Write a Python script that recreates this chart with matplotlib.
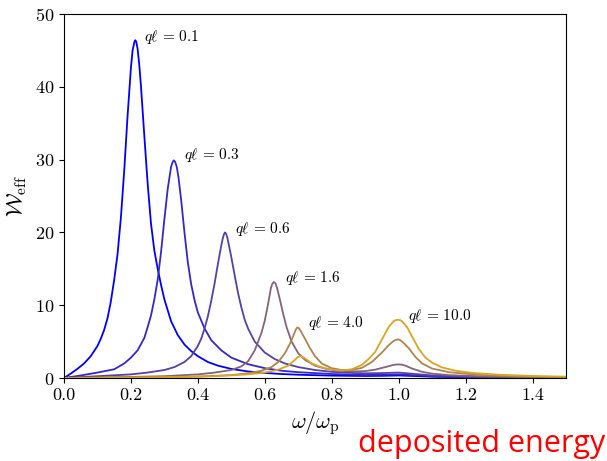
import matplotlib
matplotlib.use("Agg")
import matplotlib.pyplot as plt
from matplotlib.colors import to_rgb
import numpy as np

plt.rcParams.update({
    "font.family": "serif",
    "font.serif": ["cmr10"],
    "mathtext.fontset": "cm",
    "axes.formatter.use_mathtext": True,
    "axes.unicode_minus": False,
})

# Effective energy-loss spectra for several values of q*l
ql_values = [0.1, 0.3, 0.6, 1.6, 4.0, 10.0]

omega_01 = [0, 0.02, 0.04, 0.06, 0.08, 0.10, 0.11, 0.12, 0.13, 0.14, 0.15, 0.16, 0.17,
            0.18, 0.19, 0.20, 0.205, 0.21, 0.213, 0.216, 0.22, 0.225, 0.23, 0.24, 0.25,
            0.26, 0.27, 0.28, 0.29, 0.30, 0.32, 0.34, 0.36, 0.38, 0.40, 0.43, 0.46, 0.50,
            0.55, 0.60, 0.65, 0.70, 0.80, 0.90, 0.95, 1.00, 1.05, 1.10, 1.20, 1.35, 1.50]
w_01 = [0, 0.6, 1.25, 2.0, 3.0, 4.4, 5.4, 6.6, 8.2, 10.5, 13.5, 17.0, 22.0,
        28.5, 36.0, 42.6, 45.0, 46.1, 46.4, 46.2, 45.2, 43.0, 40.1, 33.3, 26.7,
        21.2, 17.5, 15.0, 12.8, 10.8, 7.8, 5.9, 4.6, 3.7, 3.0, 2.2, 1.7, 1.25,
        0.9, 0.7, 0.55, 0.45, 0.33, 0.28, 0.3, 0.35, 0.27, 0.18, 0.11, 0.07, 0.05]

omega_03 = [0, 0.05, 0.10, 0.15, 0.18, 0.20, 0.22, 0.24, 0.25, 0.26, 0.27, 0.28, 0.29,
            0.30, 0.31, 0.32, 0.324, 0.328, 0.332, 0.337, 0.342, 0.35, 0.36, 0.37, 0.38,
            0.39, 0.40, 0.42, 0.44, 0.47, 0.50, 0.55, 0.60, 0.65, 0.70, 0.80, 0.90, 0.95,
            1.00, 1.05, 1.10, 1.20, 1.35, 1.50]
w_03 = [0, 0.35, 0.75, 1.2, 2.0, 2.8, 3.8, 5.5, 7.0, 8.6, 10.8, 13.5, 17.3,
        21.8, 26.0, 29.0, 29.6, 29.9, 29.7, 29.0, 27.6, 24.5, 20.0, 15.9, 12.9,
        10.7, 9.0, 6.8, 5.2, 3.8, 2.8, 1.9, 1.35, 1.0, 0.8, 0.55, 0.42, 0.45,
        0.5, 0.38, 0.25, 0.14, 0.09, 0.06]

omega_06 = [0, 0.10, 0.20, 0.25, 0.30, 0.33, 0.36, 0.38, 0.40, 0.41, 0.42, 0.43, 0.44,
            0.45, 0.46, 0.47, 0.474, 0.478, 0.481, 0.484, 0.488, 0.492, 0.50, 0.51, 0.52,
            0.53, 0.54, 0.55, 0.57, 0.60, 0.63, 0.66, 0.70, 0.75, 0.80, 0.85, 0.90, 0.95,
            1.00, 1.05, 1.10, 1.20, 1.35, 1.50]
w_06 = [0, 0.25, 0.5, 0.75, 1.1, 1.5, 2.2, 3.0, 4.4, 5.4, 6.8, 8.5, 10.6,
        13.0, 15.7, 18.2, 19.1, 19.75, 20.0, 19.85, 19.3, 18.4, 16.6, 14.1, 11.7,
        9.7, 8.0, 6.8, 5.0, 3.5, 2.6, 2.0, 1.5, 1.1, 0.85, 0.72, 0.65, 0.68,
        0.75, 0.55, 0.36, 0.18, 0.1, 0.07]

omega_16 = [0, 0.20, 0.30, 0.40, 0.45, 0.50, 0.53, 0.55, 0.57, 0.59, 0.60, 0.61, 0.618,
            0.622, 0.627, 0.632, 0.637, 0.645, 0.655, 0.665, 0.68, 0.70, 0.72, 0.75, 0.78,
            0.82, 0.86, 0.90, 0.93, 0.96, 0.98, 0.99, 1.00, 1.01, 1.02, 1.04, 1.07, 1.10,
            1.15, 1.25, 1.35, 1.50]
w_16 = [0, 0.15, 0.25, 0.5, 0.75, 1.1, 1.6, 2.3, 3.8, 6.2, 7.9, 10.2, 12.3,
        12.9, 13.2, 13.0, 12.3, 10.8, 8.8, 7.0, 5.0, 3.4, 2.5, 1.7, 1.3,
        1.0, 0.9, 0.95, 1.15, 1.5, 1.75, 1.84, 1.87, 1.83, 1.7, 1.3, 0.85, 0.6,
        0.4, 0.22, 0.13, 0.08]

omega_40 = [0, 0.20, 0.40, 0.50, 0.55, 0.59, 0.62, 0.64, 0.66, 0.675, 0.687, 0.692,
            0.697, 0.702, 0.708, 0.72, 0.735, 0.75, 0.77, 0.80, 0.83, 0.86, 0.89, 0.92,
            0.95, 0.97, 0.985, 0.992, 0.998, 1.005, 1.015, 1.03, 1.05, 1.07, 1.10, 1.15,
            1.25, 1.35, 1.50]
w_40 = [0, 0.05, 0.2, 0.4, 0.65, 1.0, 1.5, 2.2, 3.4, 4.7, 6.0, 6.6,
        6.95, 6.85, 6.4, 5.4, 4.1, 3.0, 2.0, 1.35, 1.1, 1.1, 1.4, 2.2,
        3.5, 4.5, 5.1, 5.25, 5.3, 5.2, 4.8, 4.1, 2.9, 2.0, 1.3, 0.8,
        0.4, 0.22, 0.12]

omega_100 = [0, 0.30, 0.45, 0.55, 0.60, 0.64, 0.67, 0.69, 0.698, 0.705, 0.712, 0.72,
             0.74, 0.77, 0.80, 0.83, 0.86, 0.89, 0.91, 0.93, 0.95, 0.97, 0.985, 0.991,
             0.997, 1.004, 1.01, 1.025, 1.04, 1.06, 1.08, 1.10, 1.13, 1.17, 1.22, 1.30,
             1.40, 1.50]
w_100 = [0, 0.1, 0.25, 0.5, 0.75, 1.15, 1.7, 2.5, 2.85, 3.0, 2.9, 2.7,
         2.0, 1.45, 1.15, 1.05, 1.2, 1.8, 2.6, 3.6, 5.3, 7.0, 7.8, 7.95,
         8.0, 7.95, 7.8, 7.0, 5.7, 4.0, 2.8, 2.1, 1.45, 1.0, 0.7, 0.45,
         0.28, 0.18]

omegas = [omega_01, omega_03, omega_06, omega_16, omega_40, omega_100]
spectra = [w_01, w_03, w_06, w_16, w_40, w_100]

# label anchor positions (data coordinates)
label_x = [0.240, 0.359, 0.510, 0.659, 0.729, 1.029]
label_y = [46.9, 30.6, 20.5, 13.8, 7.6, 8.55]

c_lo = np.array(to_rgb("blue"))
c_hi = np.array(to_rgb("goldenrod"))
lq = np.log10(ql_values)
frac = (lq - lq.min()) / (lq.max() - lq.min())

fig = plt.figure(figsize=(6.07, 4.61), dpi=100)
ax = fig.add_axes([0.1054, 0.18, 0.8271, 0.7896])

for om, w, f, ql, lx, ly in zip(omegas, spectra, frac, ql_values, label_x, label_y):
    col = tuple(c_lo * (1 - f) + c_hi * f)
    ax.plot(om, w, color=col, lw=1.3)
    ax.text(lx, ly, r"$q\ell\,=\,%.1f$" % ql, fontsize=11, ha="left", va="center")

ax.set_xlim(0, 1.5)
ax.set_ylim(0, 50)
ax.set_xticks(np.arange(0, 1.41, 0.2))
ax.set_yticks(np.arange(0, 51, 10))
ax.xaxis.set_major_formatter(matplotlib.ticker.FormatStrFormatter("%.1f"))
ax.tick_params(labelsize=13)
ax.set_xlabel(r"$\omega/\omega_{\rm p}$", fontsize=16)
ax.set_ylabel(r"$\mathcal{W}_{\rm eff}$", fontsize=16)

fig.text(605 / 607, 1 - 452 / 461, "deposited energy", color="red",
         fontsize=22, family=["Open Sans", "DejaVu Sans"], ha="right", va="baseline")

fig.savefig("out.png", dpi=100)
